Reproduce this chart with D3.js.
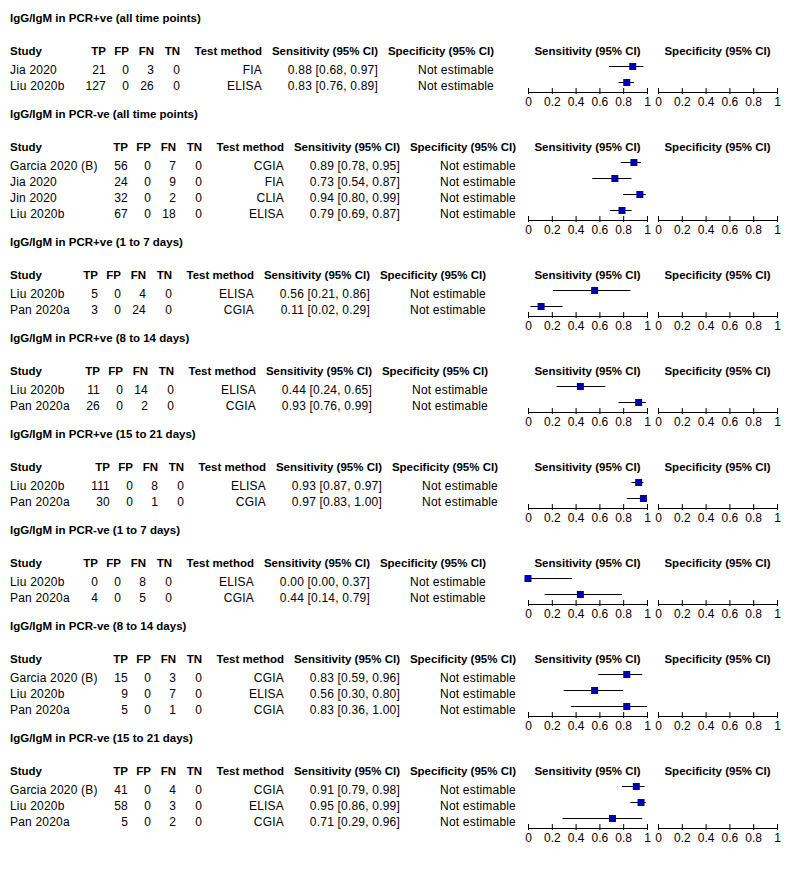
<!DOCTYPE html>
<html>
<head>
<meta charset="utf-8">
<script src="https://cdn.jsdelivr.net/npm/d3@7"></script>
<style>
  html, body { margin: 0; padding: 0; background: #fff; }
  svg { display: block; }
  text { font-family: "Liberation Sans", Arial, sans-serif; fill: #000; }
  .b { font-weight: bold; font-size: 11.5px; }
  .r { font-size: 12px; letter-spacing: 0.2px; }
</style>
</head>
<body>
<svg id="chart" width="788" height="884"></svg>
<script>
// ---------- DATA ----------
const sectionTitles = [
  "IgG/IgM in PCR+ve (all time points)",
  "IgG/IgM in PCR-ve (all time points)",
  "IgG/IgM in PCR+ve (1 to 7 days)",
  "IgG/IgM in PCR+ve (8 to 14 days)",
  "IgG/IgM in PCR+ve (15 to 21 days)",
  "IgG/IgM in PCR-ve (1 to 7 days)",
  "IgG/IgM in PCR-ve (8 to 14 days)",
  "IgG/IgM in PCR-ve (15 to 21 days)"
];
const studies = [
  ["Jia 2020", "Liu 2020b"],
  ["Garcia 2020 (B)", "Jia 2020", "Jin 2020", "Liu 2020b"],
  ["Liu 2020b", "Pan 2020a"],
  ["Liu 2020b", "Pan 2020a"],
  ["Liu 2020b", "Pan 2020a"],
  ["Liu 2020b", "Pan 2020a"],
  ["Garcia 2020 (B)", "Liu 2020b", "Pan 2020a"],
  ["Garcia 2020 (B)", "Liu 2020b", "Pan 2020a"]
];
const tp = [[21,127],[56,24,32,67],[5,3],[11,26],[111,30],[0,4],[15,9,5],[41,58,5]];
const fp = [[0,0],[0,0,0,0],[0,0],[0,0],[0,0],[0,0],[0,0,0],[0,0,0]];
const fn = [[3,26],[7,9,2,18],[4,24],[14,2],[8,1],[8,5],[3,7,1],[4,3,2]];
const tn = [[0,0],[0,0,0,0],[0,0],[0,0],[0,0],[0,0],[0,0,0],[0,0,0]];
const methods = [
  ["FIA","ELISA"],
  ["CGIA","FIA","CLIA","ELISA"],
  ["ELISA","CGIA"],
  ["ELISA","CGIA"],
  ["ELISA","CGIA"],
  ["ELISA","CGIA"],
  ["CGIA","ELISA","CGIA"],
  ["CGIA","ELISA","CGIA"]
];
const sens   = [[0.88,0.83],[0.89,0.73,0.94,0.79],[0.56,0.11],[0.44,0.93],[0.93,0.97],[0.00,0.44],[0.83,0.56,0.83],[0.91,0.95,0.71]];
const sensLo = [[0.68,0.76],[0.78,0.54,0.80,0.69],[0.21,0.02],[0.24,0.76],[0.87,0.83],[0.00,0.14],[0.59,0.30,0.36],[0.79,0.86,0.29]];
const sensHi = [[0.97,0.89],[0.95,0.87,0.99,0.87],[0.86,0.29],[0.65,0.99],[0.97,1.00],[0.37,0.79],[0.96,0.80,1.00],[0.98,0.99,0.96]];
const specText = "Not estimable";
const axisTicks = [0, 0.2, 0.4, 0.6, 0.8, 1];
const tableHeaders = ["TP","FP","FN","TN","Test method","Sensitivity (95% CI)","Specificity (95% CI)"];

// ---------- LAYOUT ----------
const tpRight = [106, 128, 98, 100, 110, 98, 128, 128];   // right edge of TP column per section
const colOffsets = [0, 23, 48, 74, 156, 272, 388];         // right edges relative to TP column
const sensRange = [528, 647];
const specRange = [658, 777];

const svg = d3.select("#chart");
svg.append("rect").attr("width", 788).attr("height", 884).attr("fill", "#fff");

const xSens = d3.scaleLinear().domain([0, 1]).range(sensRange);
const xSpec = d3.scaleLinear().domain([0, 1]).range(specRange);
const fmt = d3.format(".2f");

let T = 22; // title baseline
sectionTitles.forEach((title, s) => {
  const g = svg.append("g");
  const n = studies[s].length;
  g.append("text").attr("class", "b").attr("x", 10).attr("y", T).text(title);

  const hy = T + 33;
  g.append("text").attr("class", "b").attr("x", 10).attr("y", hy).text("Study");
  tableHeaders.forEach((h, i) => {
    g.append("text").attr("class", "b").attr("x", tpRight[s] + colOffsets[i]).attr("y", hy)
      .attr("text-anchor", "end").text(h);
  });
  g.append("text").attr("class", "b").attr("x", d3.mean(sensRange)).attr("y", hy)
    .attr("text-anchor", "middle").text("Sensitivity (95% CI)");
  g.append("text").attr("class", "b").attr("x", d3.mean(specRange)).attr("y", hy)
    .attr("text-anchor", "middle").text("Specificity (95% CI)");

  studies[s].forEach((name, i) => {
    const by = T + 52 + 16 * i;
    g.append("text").attr("class", "r").attr("x", 10).attr("y", by).text(name);
    const vals = [tp[s][i], fp[s][i], fn[s][i], tn[s][i], methods[s][i],
      `${fmt(sens[s][i])} [${fmt(sensLo[s][i])}, ${fmt(sensHi[s][i])}]`, specText];
    vals.forEach((v, k) => {
      g.append("text").attr("class", "r").attr("x", tpRight[s] + colOffsets[k]).attr("y", by)
        .attr("text-anchor", "end").text(v);
    });
    const my = by - 7.5;
    g.append("line").attr("x1", xSens(sensLo[s][i])).attr("x2", xSens(sensHi[s][i]))
      .attr("y1", my).attr("y2", my).attr("stroke", "#000").attr("stroke-width", 1);
    g.append("rect").attr("x", xSens(sens[s][i]) - 3.5).attr("y", my - 3.5)
      .attr("width", 7).attr("height", 7).attr("fill", "#0000a8");
  });

  const ay = T + 52 + 16 * (n - 1) + 2;
  [xSens, xSpec].forEach(sc => {
    const ax = g.append("g").attr("transform", `translate(0,${ay})`)
      .call(d3.axisBottom(sc).tickValues(axisTicks).tickSize(2)
        .tickFormat(d => d === 0 || d === 1 ? d3.format("d")(d) : d3.format(".1f")(d)));
    ax.select(".domain").attr("d", `M${sc.range()[0]},0.5H${sc.range()[1]}`).attr("stroke", "#000");
    ax.selectAll(".tick line").attr("y1", -4).attr("y2", 2).attr("stroke", "#000");
    ax.selectAll(".tick text").attr("y", 5).attr("dy", "0.71em")
      .attr("font-family", "Liberation Sans, Arial, sans-serif").attr("font-size", 12).attr("fill", "#000");
  });

  T += 64 + 16 * n;
});
</script>
</body>
</html>
